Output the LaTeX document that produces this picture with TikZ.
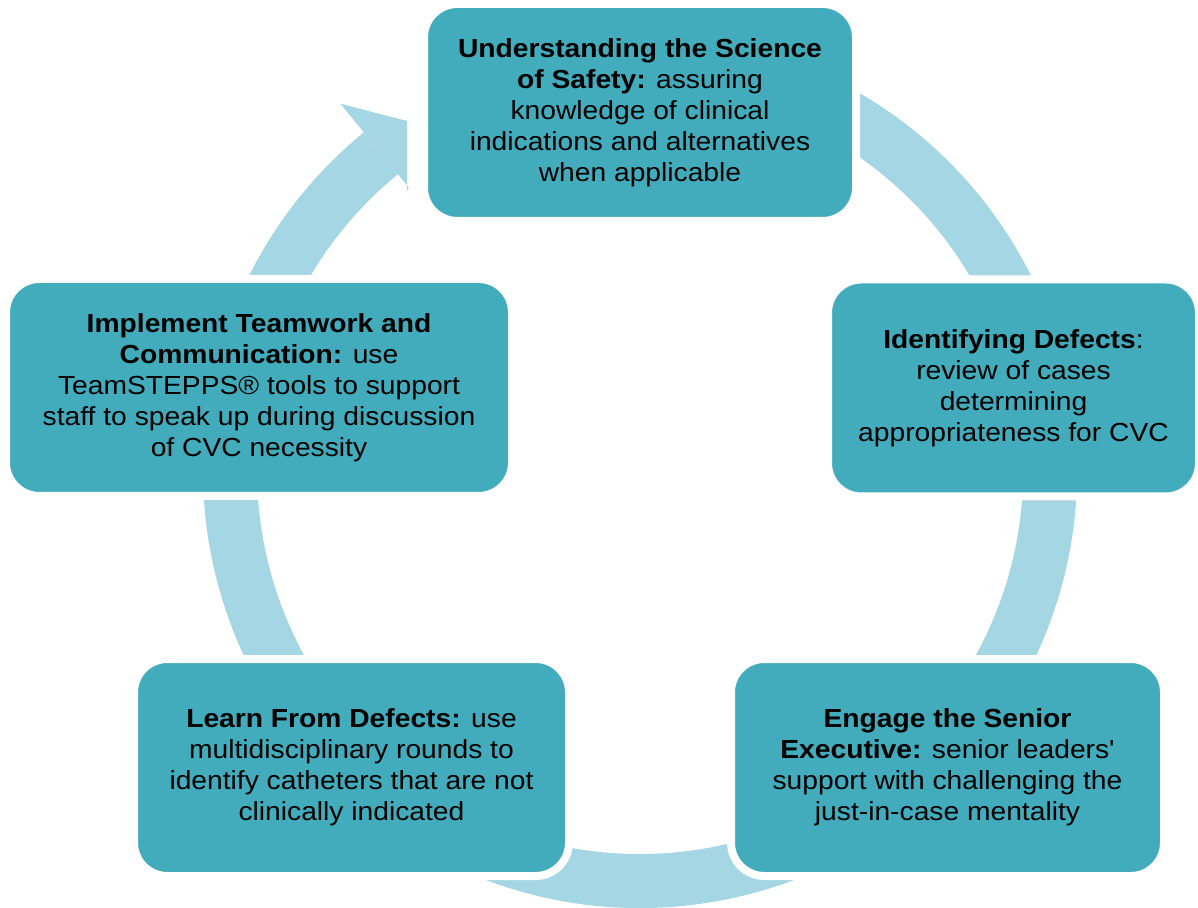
\documentclass[tikz,border=0pt]{standalone}
\usepackage{fontspec}
\setmainfont{Liberation Sans}[FakeStretch=1.08, Ligatures=TeXOff]
\usetikzlibrary{positioning}

\begin{document}
\begin{tikzpicture}[x=0.75pt,y=0.75pt,
    stage/.style={rectangle, rounded corners=25pt, fill=boxteal, draw=white,
        line width=6pt, minimum height=162.75pt, inner sep=0pt, align=center,
        text=black, font=\fontsize{19.6}{23.25}\selectfont}]
    \definecolor{boxteal}{RGB}{66,172,189}
    \definecolor{ringblue}{RGB}{165,214,227}

    \useasboundingbox (0,0) rectangle (1198,907);
    \clip (0,0) rectangle (1198,907);

    % the cycle ring
    \draw[ringblue, line width=40.5pt] ([shift={(640,436)}]100:410) arc[start angle=100, end angle=-230.8, radius=410];
    \fill[ringblue] ([shift={(640,436)}]129.2:474) -- (407,786) -- (407,716) -- ([shift={(640,436)}]129.2:366) -- cycle;

    \node[stage, minimum width=324pt] (science) at (640,794.5)
        {\textbf{Understanding the Science}\\ \textbf{of Safety:} assuring\\ knowledge of clinical\\ indications and alternatives\\ when applicable};
    \node[stage, minimum width=278.25pt] (defects) at (1013.5,519)
        {\textbf{Identifying Defects}:\\ review of cases\\ determining\\ appropriateness for CVC};
    \node[stage, minimum width=324.75pt] (senior) at (947.5,139.5)
        {\textbf{Engage the Senior}\\ \textbf{Executive:} senior leaders'\\ support with challenging the\\ just-in-case mentality};
    \node[stage, minimum width=326.25pt] (learn) at (351.5,139.5)
        {\textbf{Learn From Defects:} use\\ multidisciplinary rounds to\\ identify catheters that are not\\ clinically indicated};
    \node[stage, minimum width=379.5pt] (teamwork) at (259,519.5)
        {\textbf{Implement Teamwork and}\\ \textbf{Communication:} use\\ TeamSTEPPS® tools to support\\ staff to speak up during discussion\\ of CVC necessity};

\end{tikzpicture}
\end{document}
